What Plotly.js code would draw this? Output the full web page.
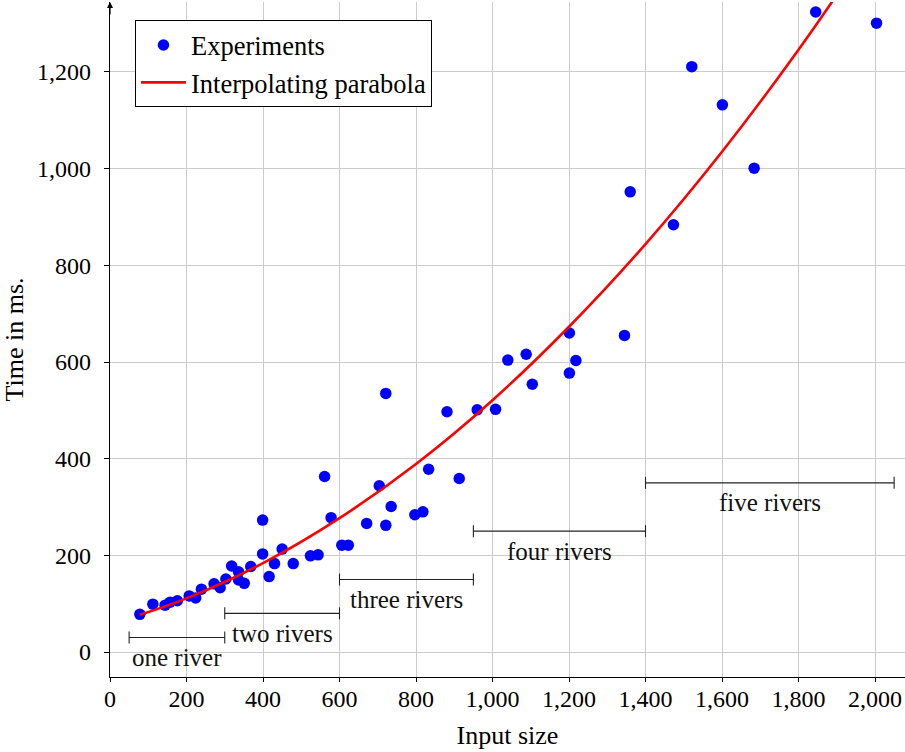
<!DOCTYPE html>
<html>
<head>
<meta charset="utf-8">
<script src="https://cdn.plot.ly/plotly-3.0.1.min.js"></script>
<style>html,body{margin:0;padding:0;background:#fff;}#chart{width:905px;height:752px;}</style>
</head>
<body>
<div id="chart"></div>
<script>
// Experiments (input size, time in ms)
const xExp = [78,112,144,157,176,207,224,239,272,288,303,318,336,336,351,368,399,399,416,430,450,479,524,544,561,578,606,623,671,704,721,721,735,797,818,833,881,913,960,1008,1040,1088,1104,1201,1218,1201,1345,1360,1473,1521,1601,1684,1845,2004];
const yExp = [78,99,97,103,106,116,112,130,141,133,151,178,166,149,142,177,273,203,156,183,213,183,199,201,363,278,221,221,266,344,535,262,301,284,290,378,497,359,501,502,604,616,554,660,603,577,655,952,884,1211,1132,1001,1324,1301];

// Interpolating parabola, values
const xFit = [78,200,400,600,800,1000,1200,1400,1600,1800,2000];
const yFit = [77,111,184,277,389,521,673,844,1035,1246,1476];

// River ranges
const bracketFrom = [50,300,600,950,1400];
const bracketTo = [300,600,950,1400,2050];
const bracketY = [30,80,150,250,350];
const bracketLabels = ['one river','two rivers','three rivers','four rivers','five rivers'];

const xTickVals = [0,200,400,600,800,1000,1200,1400,1600,1800,2000];
const yTickVals = [0,200,400,600,800,1000,1200];

const FONT = 'Liberation Serif, Times New Roman, serif';

const traces = [
  {
    x: xExp, y: yExp, type: 'scatter', mode: 'markers', name: 'Experiments',
    marker: {color: '#0000ff', size: 11.5}
  },
  {
    x: xFit, y: yFit, type: 'scatter', mode: 'lines', name: 'Interpolating parabola',
    line: {color: '#ff0000', width: 2.6, shape: 'spline'}
  }
];

const shapes = [];
const annotations = [];
for (let i = 0; i < bracketFrom.length; i++) {
  shapes.push({type: 'line', xref: 'x', yref: 'y', x0: bracketFrom[i], x1: bracketTo[i], y0: bracketY[i], y1: bracketY[i], line: {color: '#222', width: 1.1}});
  [bracketFrom[i], bracketTo[i]].forEach(function (xv) {
    shapes.push({type: 'line', xref: 'x', yref: 'y', ysizemode: 'pixel', yanchor: bracketY[i], x0: xv, x1: xv, y0: -6, y1: 6, line: {color: '#222', width: 1.1}});
  });
  annotations.push({xref: 'x', yref: 'y', x: (bracketFrom[i] + bracketTo[i]) / 2, y: bracketY[i], yshift: -20, yanchor: 'middle', text: bracketLabels[i], showarrow: false, font: {family: FONT, size: 25, color: '#111'}});
}
// arrow tip on the y axis
annotations.push({xref: 'paper', yref: 'paper', x: 0, y: 1, ax: 0, ay: 14, text: '', showarrow: true, arrowhead: 2, arrowsize: 1, arrowwidth: 1.2, arrowcolor: '#000'});

const layout = {
  width: 905, height: 752,
  margin: {l: 110, r: 0, t: 2, b: 75},
  paper_bgcolor: '#fff', plot_bgcolor: '#fff',
  font: {family: FONT, size: 24, color: '#000'},
  showlegend: true,
  legend: {
    x: 0.0314, y: 0.973, xanchor: 'left', yanchor: 'top',
    bgcolor: '#fff', bordercolor: '#000', borderwidth: 1,
    itemwidth: 45,
    font: {family: FONT, size: 26.5, color: '#000'}, tracegroupgap: 0
  },
  xaxis: {
    range: [0, 2078.4], tickvals: xTickVals, tickformat: ',d',
    showgrid: true, gridcolor: '#cccccc', gridwidth: 1, zeroline: false,
    showline: true, linecolor: '#000', linewidth: 1.2,
    ticks: 'outside', ticklen: 4, tickcolor: '#000', ticklabelstandoff: -4,
    tickfont: {family: FONT, size: 24},
    title: {text: 'Input size', font: {family: FONT, size: 26}, standoff: 14}
  },
  yaxis: {
    range: [-51.7, 1344.8], tickvals: yTickVals, tickformat: ',d',
    showgrid: true, gridcolor: '#cccccc', gridwidth: 1, zeroline: false,
    showline: true, linecolor: '#000', linewidth: 1.2,
    ticks: 'outside', ticklen: 5, tickcolor: '#000', ticklabelstandoff: 8,
    tickfont: {family: FONT, size: 24},
    title: {text: 'Time in ms.', font: {family: FONT, size: 26}, standoff: 10}
  },
  shapes: shapes,
  annotations: annotations
};

Plotly.newPlot('chart', traces, layout, {displayModeBar: false, staticPlot: true});
</script>
</body>
</html>
